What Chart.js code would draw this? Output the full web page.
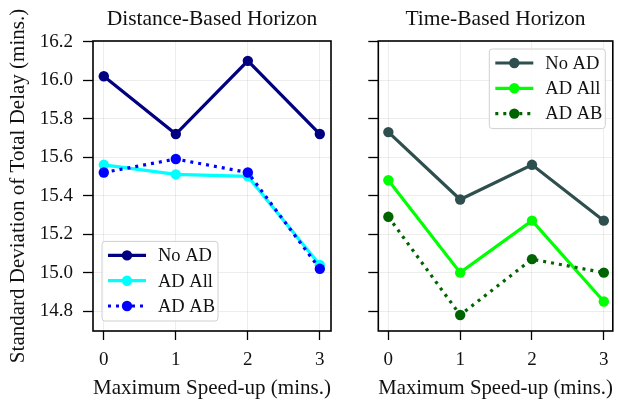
<!DOCTYPE html>
<html>
<head>
  <meta charset="UTF-8" />
  <title>Standard Deviation of Total Delay</title>
  <script src="https://cdn.jsdelivr.net/npm/chart.js"></script>
  <style>
    body {
      margin: 0;
      background: white;
    }
    .wrap {
      position: relative;
      width: 618px;
      height: 404px;
    }
    canvas {
      position: absolute;
      top: 0;
    }
    #distChart { left: 0; }
    #timeChart { left: 345px; }
  </style>
</head>
<body>
  <div class="wrap">
    <canvas id="distChart" width="345" height="404"></canvas>
    <canvas id="timeChart" width="273" height="404"></canvas>
  </div>
  <script>
    const speedUp = [0, 1, 2, 3];
    const yTicks = [14.8, 15.0, 15.2, 15.4, 15.6, 15.8, 16.0, 16.2];
    const seriesLabels = ['No AD', 'AD All', 'AD AB'];

    // distance-based horizon
    const distNoAD = [16.02, 15.72, 16.10, 15.72];
    const distADAll = [15.56, 15.51, 15.50, 15.04];
    const distADAB = [15.52, 15.59, 15.52, 15.02];

    // time-based horizon
    const timeNoAD = [15.73, 15.38, 15.56, 15.27];
    const timeADAll = [15.48, 15.00, 15.27, 14.85];
    const timeADAB = [15.29, 14.78, 15.07, 15.00];

    const serif = "'Liberation Serif', 'DejaVu Serif', serif";
    const textColor = '#111';
    const gridColor = 'rgba(0,0,0,0.07)';

    const framePlugin = {
      id: 'frame',
      afterDatasetsDraw(chart) {
        const a = chart.chartArea;
        const ctx = chart.ctx;
        ctx.save();
        ctx.strokeStyle = '#000';
        ctx.lineWidth = 1.6;
        ctx.strokeRect(a.left, a.top, a.right - a.left, a.bottom - a.top);
        ctx.restore();
      }
    };

    // matplotlib-like legend: line + marker, framed box
    const boxLegend = {
      id: 'boxLegend',
      afterDraw(chart, args, opts) {
        const a = chart.chartArea;
        const ctx = chart.ctx;
        const ds = chart.data.datasets;
        const w = 116, rowH = 25.3;
        const h = 29 + rowH * (ds.length - 1);
        let x, y;
        if (opts.pos === 'lower left') {
          x = a.left + 9; y = a.bottom - 10 - h;
        } else {
          x = a.right - 7.5 - w; y = a.top + 8;
        }
        ctx.save();
        ctx.beginPath();
        ctx.roundRect(x, y, w, h, 3);
        ctx.fillStyle = 'rgba(255,255,255,0.8)';
        ctx.fill();
        ctx.strokeStyle = '#d0d0d0';
        ctx.lineWidth = 1;
        ctx.stroke();
        ds.forEach((d, i) => {
          const cy = y + 14 + i * rowH;
          ctx.strokeStyle = d.borderColor;
          ctx.lineWidth = d.borderWidth;
          ctx.setLineDash(d.borderDash || []);
          ctx.beginPath();
          ctx.moveTo(x + 6, cy);
          ctx.lineTo(x + 44, cy);
          ctx.stroke();
          ctx.setLineDash([]);
          ctx.beginPath();
          ctx.arc(x + 25, cy, d.pointRadius, 0, Math.PI * 2);
          ctx.fillStyle = d.pointBackgroundColor;
          ctx.fill();
          ctx.fillStyle = textColor;
          ctx.font = '18.5px ' + serif;
          ctx.textBaseline = 'middle';
          ctx.fillText(d.label, x + 56, cy + 1);
        });
        ctx.restore();
      }
    };

    function series(label, values, color, order, dash) {
      return {
        label: label,
        data: speedUp.map((s, i) => ({ x: s, y: values[i] })),
        borderColor: color,
        backgroundColor: color,
        pointBackgroundColor: color,
        pointBorderColor: color,
        borderWidth: 3.2,
        borderDash: dash || [],
        borderCapStyle: 'butt',
        pointRadius: 5.2,
        pointBorderWidth: 0,
        tension: 0,
        fill: false,
        order: order
      };
    }

    function makeChart(id, title, datasets, opt) {
      return new Chart(document.getElementById(id).getContext('2d'), {
        type: 'line',
        data: { datasets: datasets },
        options: {
          responsive: false,
          animation: false,
          layout: { padding: { left: 0, right: opt.padRight, top: 0, bottom: 0 } },
          plugins: {
            legend: { display: false },
            tooltip: { enabled: false },
            title: {
              display: true,
              text: title,
              fullSize: false,
              color: textColor,
              font: { family: serif, size: 21.5, weight: 'normal' },
              padding: { top: 6, bottom: 9.2 }
            },
            boxLegend: { pos: opt.legendPos }
          },
          scales: {
            x: {
              type: 'linear',
              min: opt.xMin,
              max: opt.xMax,
              afterBuildTicks: s => { s.ticks = speedUp.map(v => ({ value: v })); },
              afterFit: s => { s.height = 73; },
              border: { display: false },
              grid: { color: gridColor, tickColor: '#000', tickLength: 9, tickWidth: 1.3 },
              ticks: { color: textColor, font: { family: serif, size: 19 }, padding: 9 },
              title: {
                display: true,
                text: 'Maximum Speed-up (mins.)',
                color: textColor,
                font: { family: serif, size: 21.5 },
                padding: { top: 0, bottom: 3 }
              }
            },
            y: {
              min: 14.697,
              max: 16.203,
              afterBuildTicks: s => { s.ticks = yTicks.map(v => ({ value: v })); },
              afterFit: s => { s.width = opt.yWidth; },
              border: { display: false },
              grid: { color: gridColor, tickColor: '#000', tickLength: 10, tickWidth: 1.3 },
              ticks: {
                color: textColor,
                font: { family: serif, size: 19 },
                padding: 10,
                callback: v => opt.showY ? v.toFixed(1) : ''
              },
              title: {
                display: opt.showY,
                text: 'Standard Deviation of Total Delay (mins.)',
                color: textColor,
                font: { family: serif, size: 21 },
                padding: { top: 6, bottom: 0 }
              }
            }
          }
        },
        plugins: [framePlugin, boxLegend]
      });
    }

    makeChart('distChart', 'Distance-Based Horizon', [
      series(seriesLabels[0], distNoAD, '#000080', 2),
      series(seriesLabels[1], distADAll, '#00ffff', 1),
      series(seriesLabels[2], distADAB, '#0000ff', 0, [3, 5])
    ], { xMin: -0.15, xMax: 3.155, yWidth: 93, padRight: 14, showY: true, legendPos: 'lower left' });

    makeChart('timeChart', 'Time-Based Horizon', [
      series(seriesLabels[0], timeNoAD, '#2f4f4f', 2),
      series(seriesLabels[1], timeADAll, '#00ff00', 1),
      series(seriesLabels[2], timeADAB, '#006400', 0, [3, 5])
    ], { xMin: -0.14, xMax: 3.125, yWidth: 33.3, padRight: 4.7, showY: false, legendPos: 'upper right' });
  </script>
</body>
</html>
